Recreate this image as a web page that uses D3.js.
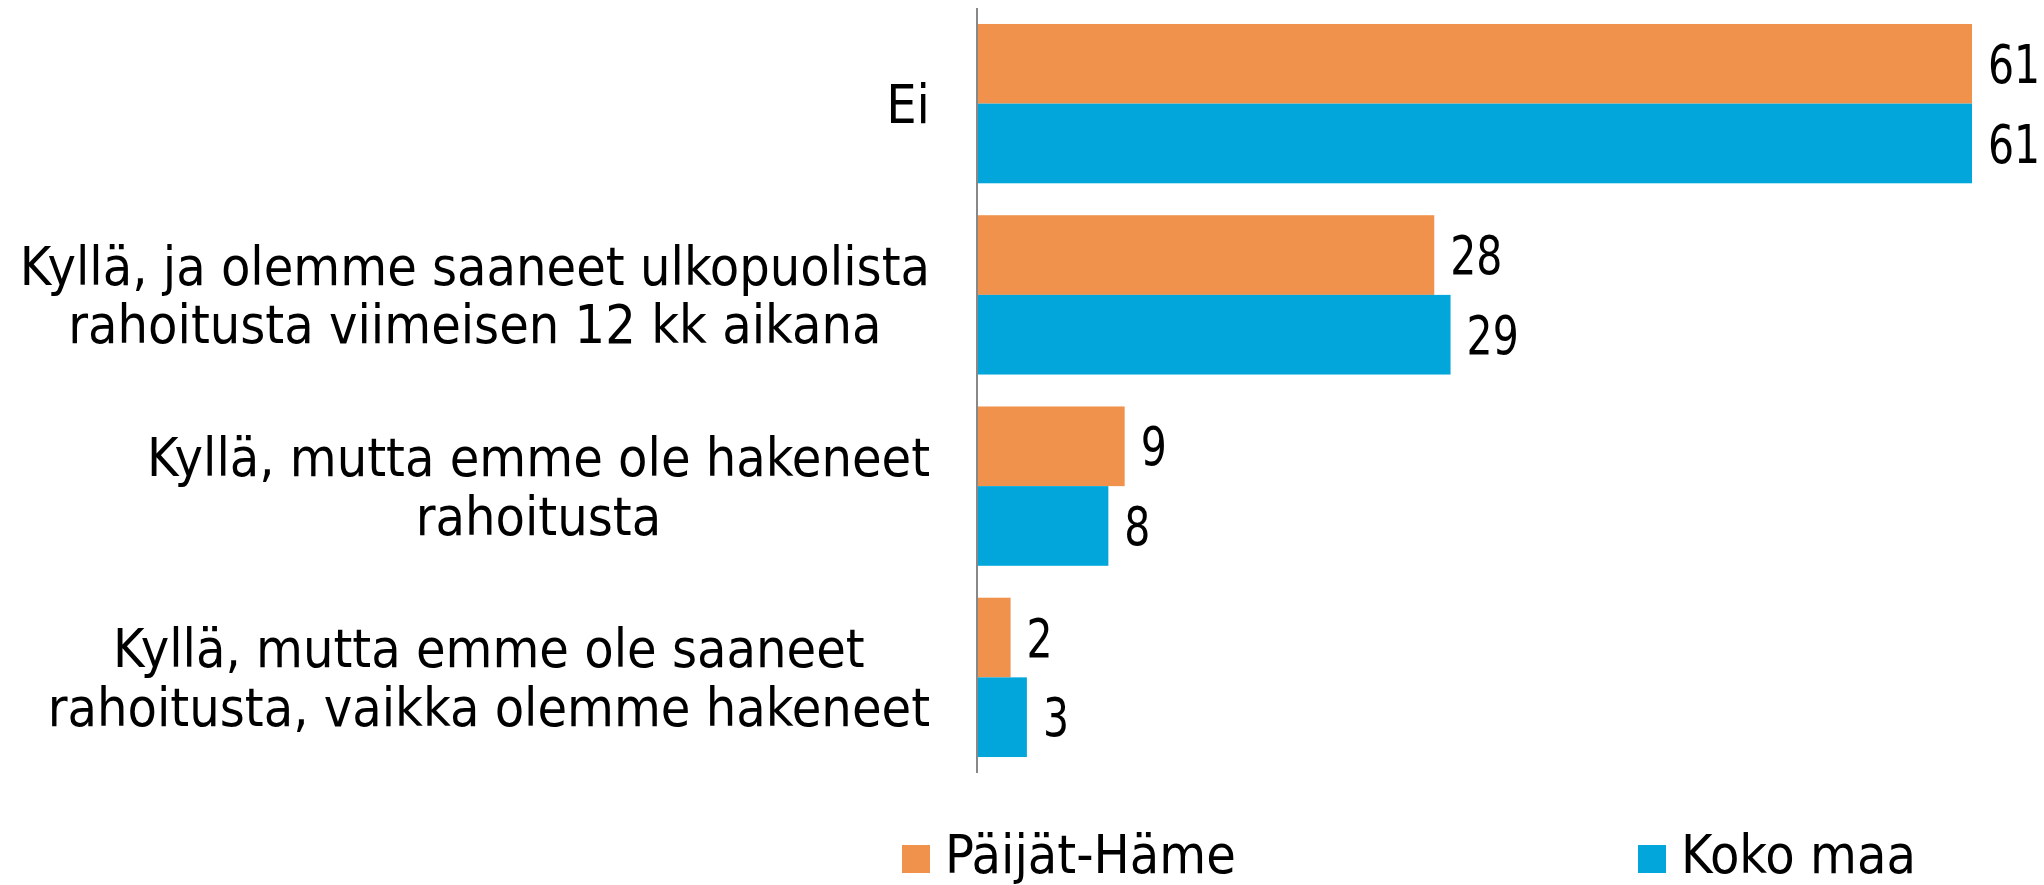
<!DOCTYPE html>
<meta charset="utf-8">
<style type="text/css">
  body {
    margin: 0;
    background: #fff;
  }

  svg text {
    font-family: "DejaVu Sans Condensed", "DejaVu Sans", sans-serif;
    font-stretch: condensed;
    fill: #000;
  }

  .axis path {
    stroke: #888;
    stroke-width: 2px;
  }
</style>

<body>
</body>

<script src="https://d3js.org/d3.v7.min.js"></script>
<script>
  // data (percent)
  var categories = [
    "Ei",
    "Kyllä, ja olemme saaneet ulkopuolista\nrahoitusta viimeisen 12 kk aikana",
    "Kyllä, mutta emme ole hakeneet\nrahoitusta",
    "Kyllä, mutta emme ole saaneet\nrahoitusta, vaikka olemme hakeneet"
  ];
  var seriesNames = ["Päijät-Häme", "Koko maa"];
  var paijatHame = [61, 28, 9, 2];
  var kokoMaa = [61, 29, 8, 3];
  var colors = ["#f0924c", "#02a6da"];

  var width = 2044,
    height = 885,
    fontSize = 53.5,
    lineGap = 58.6;

  var rows = categories.map(function(c, i) {
    return {
      name: c,
      values: [paijatHame[i], kokoMaa[i]]
    };
  });

  var y = d3.scaleBand()
    .domain(d3.range(categories.length))
    .range([8, 773])
    .paddingInner(0.167)
    .paddingOuter(0.0835);

  var ySub = d3.scaleBand()
    .domain(d3.range(seriesNames.length))
    .range([0, y.bandwidth()]);

  var x = d3.scaleLinear()
    .domain([0, d3.max(paijatHame.concat(kokoMaa))])
    .range([978, 1972]);

  var svg = d3.select("body")
    .append("svg")
    .attr("width", width)
    .attr("height", height);

  var groups = svg.selectAll(".group")
    .data(rows)
    .enter().append("g")
    .attr("class", "group")
    .attr("transform", function(d, i) {
      return "translate(0," + y(i) + ")";
    });

  groups.selectAll("rect")
    .data(function(d) { return d.values; })
    .enter().append("rect")
    .attr("x", x(0))
    .attr("y", function(d, j) { return ySub(j); })
    .attr("width", function(d) { return x(d) - x(0); })
    .attr("height", ySub.bandwidth())
    .style("fill", function(d, j) { return colors[j]; });

  // value labels, digits a bit narrower than the text font
  groups.selectAll(".val")
    .data(function(d) { return d.values; })
    .enter().append("text")
    .attr("class", "val")
    .attr("transform", function(d, j) {
      return "translate(" + (x(d) + 16) + "," + (ySub(j) + ySub.bandwidth() / 2) + ") scale(0.86,1)";
    })
    .attr("dy", "0.36em")
    .style("font-size", "53px")
    .text(function(d) { return d; });

  // axis line only, no ticks
  svg.append("g")
    .attr("class", "axis")
    .attr("transform", "translate(977,0)")
    .call(d3.axisLeft(y).tickSize(0).tickFormat(""))
    .select(".domain")
    .attr("d", "M0," + y.range()[0] + "V" + y.range()[1]);

  // category labels: block right edge at 930, lines centred in the block
  var labelRight = 930;
  rows.forEach(function(r, i) {
    var lines = r.name.split("\n");
    var cy = y(i) + y.bandwidth() / 2;
    var g = svg.append("g").attr("class", "cat");
    var texts = lines.map(function(line, k) {
      return g.append("text")
        .attr("y", cy + (k - (lines.length - 1) / 2) * lineGap)
        .attr("dy", "0.36em")
        .style("font-size", fontSize + "px")
        .attr("text-anchor", "middle")
        .text(line);
    });
    var maxW = d3.max(texts, function(t) { return t.node().getComputedTextLength(); });
    texts.forEach(function(t) { t.attr("x", labelRight - maxW / 2); });
  });

  // legend
  var legendX = [902, 1638];
  var legend = svg.selectAll(".legend")
    .data(seriesNames)
    .enter().append("g")
    .attr("class", "legend")
    .attr("transform", function(d, i) { return "translate(" + legendX[i] + ",845)"; });

  legend.append("rect")
    .attr("width", 28)
    .attr("height", 28)
    .style("fill", function(d, i) { return colors[i]; });

  legend.append("text")
    .attr("x", 43)
    .attr("y", 28)
    .style("font-size", fontSize + "px")
    .text(function(d) { return d; });
</script>
